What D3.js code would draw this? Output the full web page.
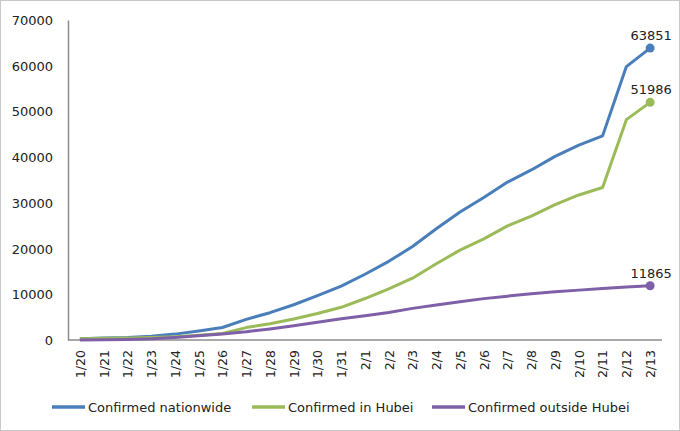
<!DOCTYPE html>
<html><head><meta charset="utf-8">
<script src="https://cdn.jsdelivr.net/npm/d3@7"></script>
<style>body{margin:0;background:#fff}svg{display:block}text{font-family:"DejaVu Sans",Verdana,sans-serif;fill:#222}</style>
</head><body><svg id="c" width="680" height="431"></svg>
<script>
const dates = ["1/20","1/21","1/22","1/23","1/24","1/25","1/26","1/27","1/28","1/29","1/30","1/31","2/1","2/2","2/3","2/4","2/5","2/6","2/7","2/8","2/9","2/10","2/11","2/12","2/13"];
const nationwide = [291,440,571,830,1287,1975,2744,4515,5974,7711,9692,11791,14380,17205,20438,24324,28018,31161,34546,37198,40171,42638,44653,59804,63851];
const hubei = [270,375,444,549,729,1052,1423,2714,3554,4586,5806,7153,9074,11177,13522,16678,19665,22112,24953,27100,29631,31728,33366,48206,51986];
const outside = [21,65,127,281,558,923,1321,1801,2420,3125,3886,4638,5306,6028,6916,7646,8353,9049,9593,10098,10540,10910,11287,11598,11865];
const yTicks = [0,10000,20000,30000,40000,50000,60000,70000];
const seriesNames = ["Confirmed nationwide","Confirmed in Hubei","Confirmed outside Hubei"];
const seriesColors = ["#4a7ebb","#9bbb59","#7f60a8"];

const svg = d3.select("#c");
svg.append("rect").attr("x",0.5).attr("y",0.5).attr("width",679).attr("height",430).attr("fill","#fff").attr("stroke","#c8c8c8");

const L=68, R=662, T=20, B=340;
const x = d3.scalePoint().domain(dates).range([L,R]).padding(0.5);
const y = d3.scaleLinear().domain([0,70000]).range([B,T]);

// y axis
const ya = svg.append("g").attr("transform",`translate(${L},0)`).call(d3.axisLeft(y).tickValues(yTicks).tickSize(0).tickPadding(15).tickFormat(d3.format("d")));
ya.select(".domain").attr("stroke","#8c8c8c").attr("stroke-width",1.5);
ya.selectAll("text").style("font-size","13px").attr("fill","#222").attr("dy","0.35em");

// x axis
const xa = svg.append("g").attr("transform",`translate(0,${B})`).call(d3.axisBottom(x).tickSize(0).tickSizeOuter(0));
xa.select(".domain").attr("d",`M${L},0H${R}`).attr("stroke","#8c8c8c").attr("stroke-width",1.5);
xa.selectAll("text").style("font-size","12.5px").attr("fill","#222")
  .attr("transform","rotate(-90)").attr("text-anchor","end").attr("x",-10).attr("y",0).attr("dy","0.35em");

const all = [nationwide,hubei,outside];
const line = d3.line().x((d,i)=>x(dates[i])).y(d=>y(d));
all.forEach((s,k)=>{
  svg.append("path").datum(s).attr("d",line).attr("fill","none").attr("stroke",seriesColors[k]).attr("stroke-width",3).attr("stroke-linejoin","round");
});
all.forEach((s,k)=>{
  const last=s.length-1;
  svg.append("circle").attr("cx",x(dates[last])).attr("cy",y(s[last])).attr("r",4.5).attr("fill",seriesColors[k]);
  svg.append("text").attr("x",x(dates[last])+1).attr("y",y(s[last])-8).attr("text-anchor","middle").style("font-size","13px").text(s[last]);
});

// legend
const legX=[52,252,432];
seriesNames.forEach((n,k)=>{
  svg.append("line").attr("x1",legX[k]).attr("x2",legX[k]+33).attr("y1",407).attr("y2",407).attr("stroke",seriesColors[k]).attr("stroke-width",3.5);
  svg.append("text").attr("x",legX[k]+36).attr("y",407).attr("dy","0.35em").style("font-size","13px").text(n);
});
</script></body></html>
